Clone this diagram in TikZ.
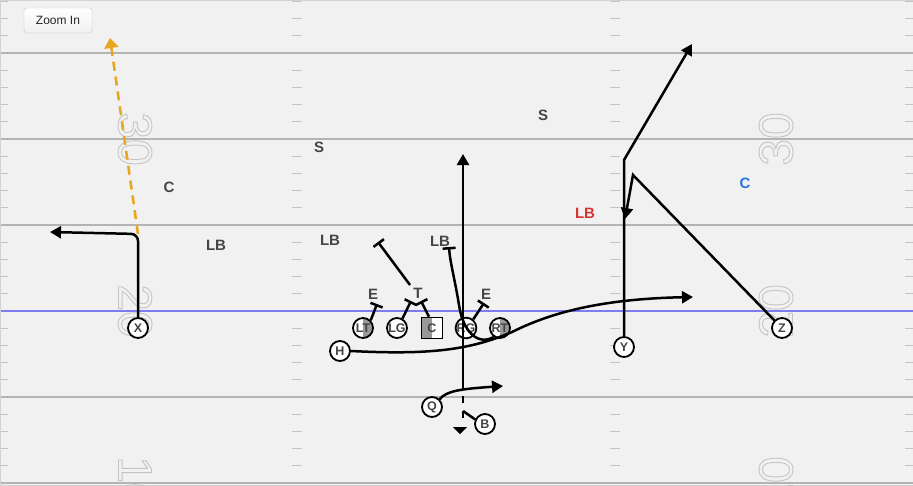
\documentclass[tikz,border=0pt]{standalone}
\usepackage{fontspec}
\setmainfont{Liberation Sans}
\usetikzlibrary{arrows.meta}

\definecolor{fieldbg}{HTML}{F1F1F1}
\definecolor{yardgray}{HTML}{B4B4B4}
\definecolor{tickgray}{HTML}{C4C4C4}
\definecolor{numgray}{HTML}{C4C4C4}
\definecolor{losblue}{HTML}{7C7CF0}
\definecolor{labelgray}{HTML}{454545}
\definecolor{shadegray}{HTML}{999999}
\definecolor{passorange}{HTML}{E8A51E}
\definecolor{lbred}{HTML}{D63333}
\definecolor{cblue}{HTML}{2676E0}

% outlined digits (stroke text rendering mode)
\newcommand{\outlinenum}[1]{\special{pdf:literal direct 1 Tr 0.9 w}#1\special{pdf:literal direct 0 Tr}}

\tikzset{
  player/.style={draw, circle, line width=1.8pt, fill=white, minimum size=20pt, inner sep=0pt,
    text=labelgray, font=\bfseries\fontsize{12.5}{12.5}\selectfont},
  halfright/.style={path picture={\fill[shadegray] (path picture bounding box.north) rectangle (path picture bounding box.south east);}},
  halfleft/.style={path picture={\fill[shadegray] (path picture bounding box.north) rectangle (path picture bounding box.south west);}},
  defender/.style={inner sep=0pt, text=labelgray, font=\bfseries\fontsize{15}{15}\selectfont},
  yardnum/.style={inner sep=0pt, text=numgray, font=\fontsize{48}{48}\selectfont},
  route/.style={line width=2.5pt, -{Triangle[length=11pt,width=12pt]}},
  block/.style={line width=2.5pt, -{Bar[width=13pt]}},
}

\begin{document}
\begin{tikzpicture}[x=1pt, y=-1pt]
  \useasboundingbox (0,0) rectangle (913,485);
  \clip (0,0) rectangle (913,485);
  % Field
  \fill[fieldbg] (0,0) rectangle (913,485);
  \foreach \yl in {53,139,225,397,483}
    \draw[yardgray, line width=1.8pt] (0,\yl) -- (913,\yl);
  \foreach \j in {-1,...,4}
    \foreach \i in {1,...,4}
      \foreach \xa/\xb in {0/8,292/302,610/620,905/913}
        \draw[tickgray, line width=0.9pt] (\xa,53+86*\j+17.2*\i) -- (\xb,53+86*\j+17.2*\i);
  \draw[losblue, line width=2pt] (0,311) -- (913,311);
  \draw[gray!35, line width=0.8pt] (0,0) rectangle (913,485);
  % Yard numbers
  \node[yardnum, rotate=-90] (num30l) at (135,139) {\outlinenum{30}};
  \node[yardnum, rotate=-90] (num20l) at (135,311) {\outlinenum{20}};
  \node[yardnum, rotate=-90] (num10l) at (135,483) {\outlinenum{10}};
  \node[yardnum, rotate=90] (num30r) at (776,139) {\outlinenum{30}};
  \node[yardnum, rotate=90] (num20r) at (776,311) {\outlinenum{20}};
  \node[yardnum, rotate=90] (num10r) at (776,483) {\outlinenum{10}};
  % Zoom button
  \node[draw=gray!45, rounded corners=3pt, top color=white, bottom color=gray!12,
    minimum width=68pt, minimum height=25pt, inner sep=0pt, text=black!85,
    font=\fontsize{12}{12}\selectfont] (zoombtn) at (58,20.5) {Zoom In};
  % Offense
  \node[player] (X) at (138,328) {X};
  \node[player] (H) at (340,351) {H};
  \node[player, halfright] (LT) at (363,328) {LT};
  \node[player] (LG) at (397,328) {LG};
  \node[player, rectangle, minimum size=21pt, line width=1.5pt, halfleft] (C) at (432,328) {C};
  \node[player] (RG) at (466,328) {RG};
  \node[player, halfright] (RT) at (500,328) {RT};
  \node[player] (Q) at (432,407) {Q};
  \node[player] (B) at (485,424) {B};
  \node[player] (Y) at (624,347) {Y};
  \node[player] (Z) at (782,328) {Z};
  % Defense
  \node[defender] (cl) at (169,187) {C};
  \node[defender] (lbwide) at (216,245) {LB};
  \node[defender] (sl) at (319,147) {S};
  \node[defender] (lbl) at (330,240) {LB};
  \node[defender] (lbm) at (440,241) {LB};
  \node[defender] (sr) at (543,115) {S};
  \node[defender, text=lbred] (lbr) at (585,213) {LB};
  \node[defender, text=cblue] (cr) at (745,183) {C};
  \node[defender] (el) at (373,294) {E};
  \node[defender] (tk) at (418,293) {T};
  \node[defender] (er) at (486,294) {E};
  % Route points
  \coordinate (xcorner) at (138,234);
  \coordinate (xout) at (50,232);
  \coordinate (xdeep) at (110,38);
  \coordinate (ycorner) at (624,160);
  \coordinate (yend) at (692,44);
  \coordinate (zcorner) at (633,175);
  \coordinate (zend) at (625,219);
  \coordinate (hend) at (693,297);
  \coordinate (qend) at (503,386);
  \coordinate (bturn) at (463,411);
  \coordinate (bfake) at (463,389);
  \coordinate (bend) at (463,154);
  \coordinate (drop) at (460,427);
  % Block points
  \coordinate (ltbar) at (377,304);
  \coordinate (lgbar) at (411,301);
  \coordinate (cbar) at (421,301);
  \coordinate (rgbar) at (484,303);
  \coordinate (tclimb) at (410,285);
  \coordinate (lbbar1) at (378,242);
  \coordinate (lbbar2) at (449,247);
  % Routes
  \draw[route, rounded corners=7pt] (X.north) -- (xcorner) -- (xout);
  \draw[line width=2.5pt, passorange, dash pattern=on 9pt off 6pt,
    -{Triangle[length=10pt,width=14pt]}] (xcorner) -- (xdeep);
  \draw[route] (Y.north) -- (ycorner) -- (yend);
  \draw[route] (Z.north west) -- (zcorner) -- (zend);
  \draw[route] (H.east) .. controls (430,355) and (470,350) .. (512,332)
    .. controls (550,313) and (600,299) .. (hend);
  \draw[route] (Q.45) .. controls (446,391) and (460,389) .. (qend);
  \draw[line width=2.5pt] (B.155) -- (bturn);
  \draw[line width=2.5pt, dash pattern=on 7pt off 8pt] (463,418) -- (bfake);
  \draw[route] (bfake) -- (bend);
  \fill (drop) ++(-7,0) -- ++(14,0) -- ++(-7,7) -- cycle;
  % Blocks
  \draw[block] (LT.north east) -- (ltbar);
  \draw[block] (LG.60) -- (lgbar);
  \draw[block] (C.105) -- (cbar);
  \draw[block] (RG.50) -- (rgbar);
  \draw[block] (tclimb) -- (lbbar1);
  \draw[block] (RT.235) .. controls (478,346) and (463,332) .. (459,305)
    .. controls (455,280) and (450,262) .. (lbbar2);
\end{tikzpicture}
\end{document}
